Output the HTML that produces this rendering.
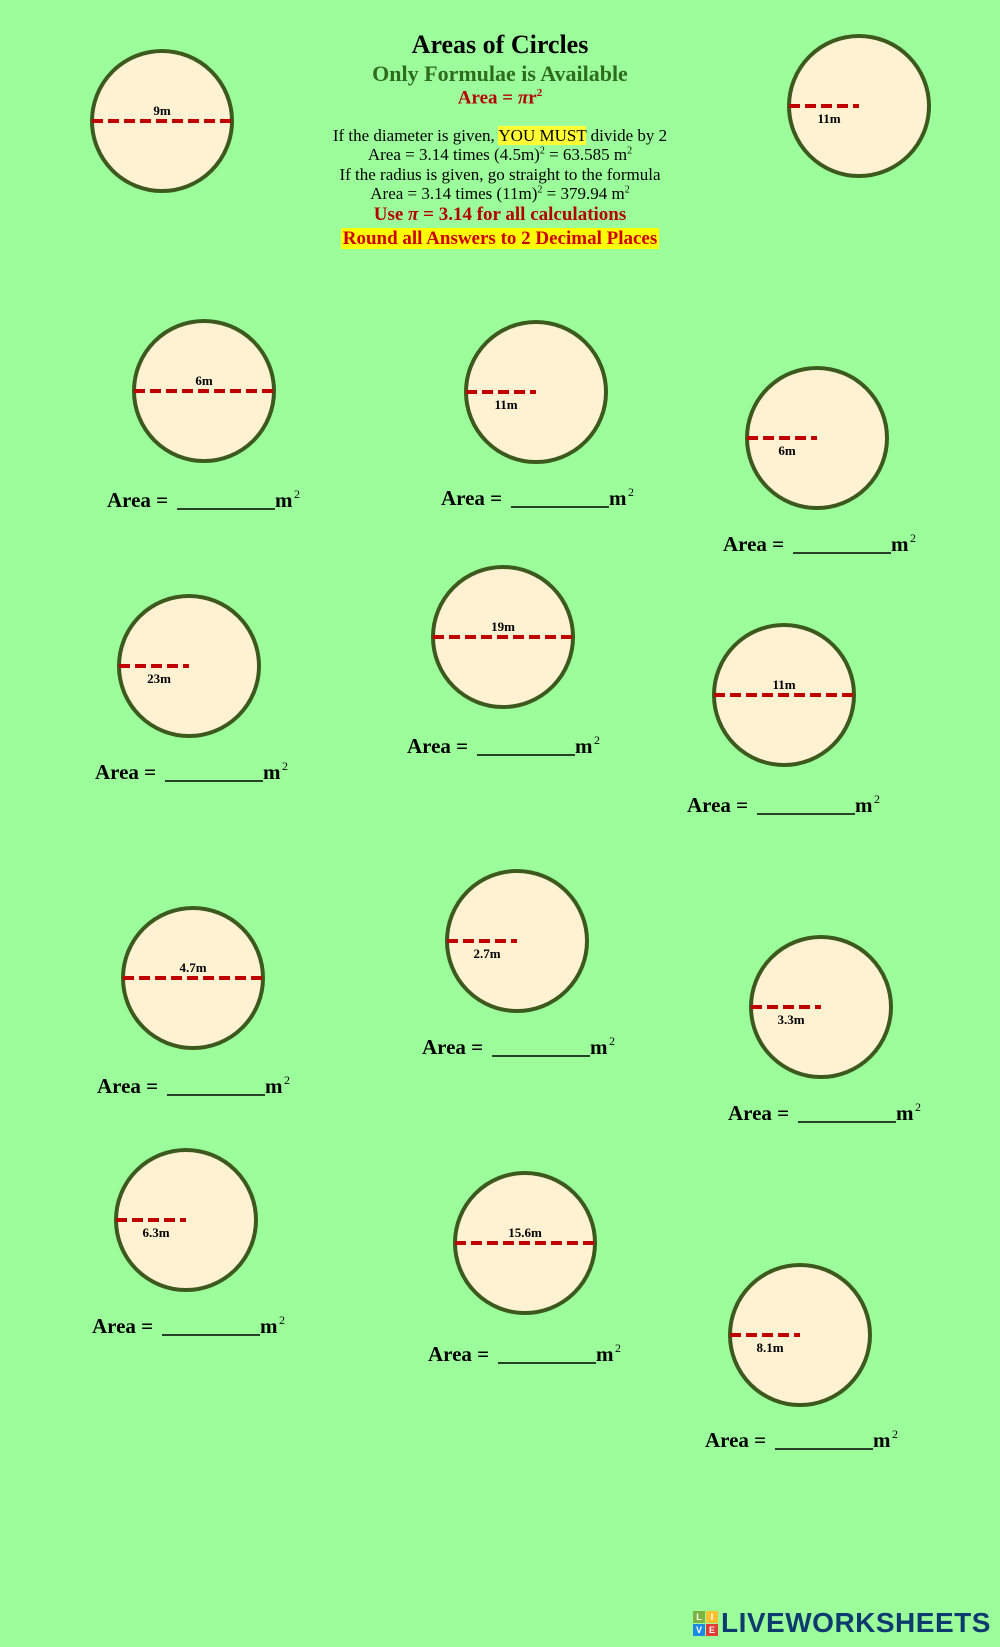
<!DOCTYPE html>
<html><head><meta charset="utf-8">
<style>
body{margin:0;background:#9cfe9a;}
#wrap{position:relative;width:1000px;height:1647px;overflow:hidden;background:#9cfe9a;font-family:"Liberation Serif",serif;}
.hd{position:absolute;left:0;width:1000px;text-align:center;white-space:nowrap;}
svg{position:absolute;left:0;top:0;}
</style></head><body>
<div id="wrap">
<div class="hd" style="top:30px;font-size:26px;font-weight:bold;color:#000;">Areas of Circles</div>
<div class="hd" style="top:61px;font-size:22px;font-weight:bold;color:#2e6b1f;">Only Formulae is Available</div>
<div class="hd" style="top:87px;font-size:19px;font-weight:bold;color:#b30000;">Area = <i>π</i>r<sup style="font-size:11px">2</sup></div>
<div class="hd" style="top:126px;font-size:17px;">If the diameter is given, <span style="background:#ffff33">YOU MUST</span> divide by 2</div>
<div class="hd" style="top:145px;font-size:17px;">Area = 3.14 times (4.5m)<sup style="font-size:10px">2</sup> = 63.585 m<sup style="font-size:10px">2</sup></div>
<div class="hd" style="top:165px;font-size:17px;">If the radius is given, go straight to the formula</div>
<div class="hd" style="top:184px;font-size:17px;">Area = 3.14 times (11m)<sup style="font-size:10px">2</sup> = 379.94 m<sup style="font-size:10px">2</sup></div>
<div class="hd" style="top:204px;font-size:19px;font-weight:bold;color:#b30000;">Use <i>π</i> = 3.14 for all calculations</div>
<div class="hd" style="top:228px;font-size:19px;font-weight:bold;color:#cc0000;"><span style="background:#ffff00;padding:0 2px">Round all Answers to 2 Decimal Places</span></div>
<svg id="svg" width="1000" height="1647"></svg>
<div style="position:absolute;left:693px;top:1608px;height:30px;display:flex;align-items:center;">
<div style="display:grid;grid-template-columns:12px 12px;grid-gap:1px;font:bold 9px 'Liberation Sans',sans-serif;color:#fff;text-align:center;line-height:12px;margin-right:3px">
<span style="background:#7cb342">L</span><span style="background:#fbc02d">I</span><span style="background:#1e88e5">V</span><span style="background:#e53935">E</span></div>
<span style="font:bold 28px 'Liberation Sans',sans-serif;color:#0d3b6e;letter-spacing:0.5px">LIVEWORKSHEETS</span>
</div>
</div>
<script>
const cx=[162,859,204,536,817,189,503,784,193,517,821,186,525,800];
const cy=[121,106,391,392,438,666,637,695,978,941,1007,1220,1243,1335];
const types=['d','r','d','r','r','r','d','d','d','r','r','r','d','r'];
const labels=['9m','11m','6m','11m','6m','23m','19m','11m','4.7m','2.7m','3.3m','6.3m','15.6m','8.1m'];
const areaX=[null,null,107,441,723,95,407,687,97,422,728,92,428,705];
const areaY=[null,null,507,505,551,779,753,812,1093,1054,1120,1333,1361,1447];
const R=70;
const NS='http://www.w3.org/2000/svg';
const svg=document.getElementById('svg');
function mk(t,a){const e=document.createElementNS(NS,t);for(const k in a)e.setAttribute(k,a[k]);svg.appendChild(e);return e;}
for(let i=0;i<cx.length;i++){
  const c=mk('circle',{cx:cx[i],cy:cy[i],r:R,fill:'#fff2d2',stroke:'#3d5a1e','stroke-width':4});
  
  
  const x2=types[i]==='d'?cx[i]+R:cx[i];
  const l=mk('line',{x1:cx[i]-R,y1:cy[i],x2:x2,y2:cy[i],stroke:'#c00000','stroke-width':4,'stroke-dasharray':'11,5'});
  
  
  const tx=types[i]==='d'?cx[i]:cx[i]-R/2+5;
  const ty=types[i]==='d'?cy[i]-6:cy[i]+17;
  const t=mk('text',{x:tx,y:ty,'text-anchor':'middle','font-size':13,'font-weight':'bold','font-family':'Liberation Serif, serif',fill:'#000'});
  t.textContent=labels[i];
  
  
  if(areaX[i]!==null){
    const a=mk('text',{x:areaX[i],y:areaY[i],'font-size':21,'font-weight':'bold','font-family':'Liberation Serif, serif',fill:'#000'});
    a.textContent='Area =';
    
    
    const u=mk('line',{x1:areaX[i]+70,y1:areaY[i]+2,x2:areaX[i]+168,y2:areaY[i]+2,stroke:'#000','stroke-width':1.5});
    
    
    const m=mk('text',{x:areaX[i]+168,y:areaY[i],'font-size':21,'font-weight':'bold','font-family':'Liberation Serif, serif',fill:'#000'});
    m.textContent='m';
    
    
    const s=mk('text',{x:areaX[i]+187,y:areaY[i]-9,'font-size':12,'font-family':'Liberation Serif, serif',fill:'#000'});
    s.textContent='2';
    
    
  }
}
</script>
</body></html>
